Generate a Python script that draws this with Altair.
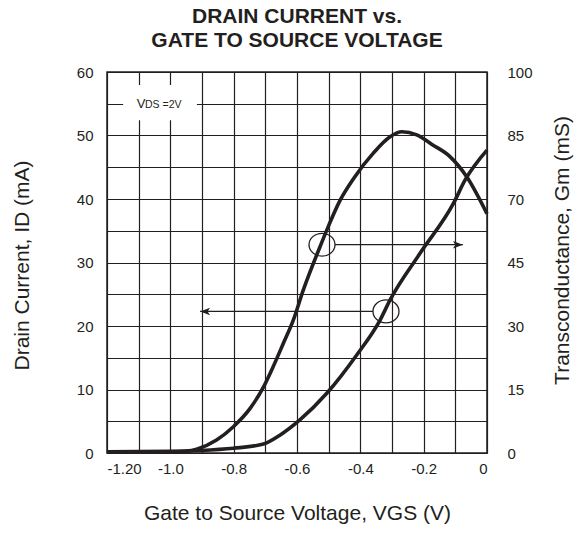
import altair as alt
import pandas as pd

# Drain current I_D (mA, left axis)
vgs_id = [-1.2, -1.0, -0.906, -0.801, -0.706, -0.654, -0.591, -0.506, -0.412,
          -0.338, -0.306, -0.212, -0.106, -0.069, 0.0]
id_ma = [0.2, 0.25, 0.4, 0.75, 1.4, 2.8, 5.2, 9.4, 15.4,
         20.9, 24.1, 31.4, 39.3, 43.0, 47.7]

# Transconductance Gm (mS, right axis)
vgs_gm = [-1.2, -1.1, -1.0, -0.95, -0.917, -0.854, -0.801, -0.748, -0.706,
          -0.675, -0.643, -0.612, -0.580, -0.527, -0.506, -0.464, -0.42,
          -0.359, -0.306, -0.269, -0.222, -0.170, -0.117, -0.064, 0.0]
gm_ms = [0.3, 0.3, 0.3, 0.5, 1.0, 3.4, 6.9, 11.7, 17.3,
         22.7, 28.8, 34.8, 42.8, 54.2, 58.5, 66.3, 72.2,
         78.7, 83.0, 84.3, 83.5, 80.8, 77.8, 72.5, 62.8]

# Axis ticks / labels
x_ticks = [-1.2, -1.1, -1.0, -0.9, -0.8, -0.7, -0.6, -0.5, -0.4, -0.3, -0.2, -0.1, 0.0]
x_labels = ["-1.20", "", "-1.0", "", "-0.8", "", "-0.6", "", "-0.4", "", "-0.2", "", "0"]
y_ticks = [0, 5, 10, 15, 20, 25, 30, 35, 40, 45, 50, 55, 60]
y_labels = ["0", "", "10", "", "20", "", "30", "", "40", "", "50", "", "60"]
gm_ticks = [0, 100 / 6, 200 / 6, 50, 400 / 6, 500 / 6, 100]
gm_labels = ["0", "15", "30", "45", "70", "85", "100"]

# Annotations (data units)
circle_x = [-0.521, -0.319]
circle_y = [32.8, 22.3]
arrow_x1 = [-0.48, -0.36]
arrow_x2 = [-0.076, -0.906]
arrow_y = [32.8, 22.3]
arrow_dir = ["right", "left"]
vds_box = {"x": -1.149, "x2": -0.916, "y": 52.4, "y2": 57.95}

INK = "#231f20"
FONT = "Liberation Sans"

xs = alt.Scale(domain=[-1.2, 0], nice=False, zero=False)
ys = alt.Scale(domain=[0, 60], nice=False, zero=False)
gs = alt.Scale(domain=[0, 100], nice=False, zero=False)

def js_list(lst):
    return "[" + ",".join("'" + s + "'" for s in lst) + "]"

x_axis = alt.Axis(values=x_ticks, labelExpr=js_list(x_labels) + "[round(datum.value*10)+12]",
                  title="Gate to Source Voltage, VGS (V)", grid=True, labelPadding=8,
                  titleX=190, titleY=60, titleBaseline="middle", titleAlign="center")
y_axis = alt.Axis(values=y_ticks, labelExpr=js_list(y_labels) + "[round(datum.value/5)]",
                  title="Drain Current, ID (mA)", grid=True, labelPadding=14,
                  titleX=-85, titleY=193, titleBaseline="middle", titleAlign="center",
                  titleAngle=270)
g_axis = alt.Axis(values=gm_ticks, labelExpr=js_list(gm_labels) + "[round(datum.value*6/100)]",
                  title="Transconductance, Gm (mS)", grid=False, orient="right",
                  labelPadding=20, titleX=75, titleY=178, titleBaseline="middle",
                  titleAlign="center", titleAngle=270)

X = lambda f: alt.X(f, scale=xs, axis=x_axis)
Y = lambda f: alt.Y(f, scale=ys, axis=y_axis)

id_df = pd.DataFrame({"vgs": vgs_id, "id": id_ma})
gm_df = pd.DataFrame({"vgs": vgs_gm, "gm": gm_ms})

id_line = alt.Chart(id_df).mark_line(color=INK, strokeWidth=3.6, interpolate="monotone").encode(
    x=X("vgs:Q"), y=Y("id:Q"),
)

box = alt.Chart(pd.DataFrame([vds_box])).mark_rect(color="white").encode(
    x=X("x:Q"), x2="x2:Q", y=Y("y:Q"), y2="y2:Q",
)

vds_v = alt.Chart(pd.DataFrame({"x": [-1.106], "y": [54.3], "t": ["V"]})).mark_text(
    align="left", baseline="alphabetic", font=FONT, fontSize=13, color=INK
).encode(x=X("x:Q"), y=Y("y:Q"), text="t:N")

vds_sub = alt.Chart(pd.DataFrame({"x": [-1.080], "y": [54.3], "t": ["DS =2V"]})).mark_text(
    align="left", baseline="alphabetic", font=FONT, fontSize=10.5, color=INK
).encode(x=X("x:Q"), y=Y("y:Q"), text="t:N")

ellipse_path = "M -1 0 A 1 0.88 0 1 1 1 0 A 1 0.88 0 1 1 -1 0 Z"
circles = alt.Chart(pd.DataFrame({"x": circle_x, "y": circle_y})).mark_point(
    shape=ellipse_path, size=676, filled=False, color=INK, strokeWidth=1.3, opacity=1
).encode(x=X("x:Q"), y=Y("y:Q"))

arr_df = pd.DataFrame({"x1": arrow_x1, "x2": arrow_x2, "y": arrow_y, "dir": arrow_dir})
rules = alt.Chart(arr_df).mark_rule(color=INK, strokeWidth=1.2).encode(
    x=X("x1:Q"), x2="x2:Q", y=Y("y:Q"),
)
head_r = alt.Chart(arr_df[arr_df["dir"] == "right"]).mark_point(
    shape="M -2 -0.75 L 0 0 L -2 0.75 L -1.5 0 Z", size=100, filled=True, color=INK, opacity=1
).encode(x=X("x2:Q"), y=Y("y:Q"))
head_l = alt.Chart(arr_df[arr_df["dir"] == "left"]).mark_point(
    shape="M 2 -0.75 L 0 0 L 2 0.75 L 1.5 0 Z", size=100, filled=True, color=INK, opacity=1
).encode(x=X("x2:Q"), y=Y("y:Q"))

left = alt.layer(id_line, box, vds_v, vds_sub, circles, rules, head_r, head_l)

gm_line = alt.Chart(gm_df).mark_line(color=INK, strokeWidth=3.6, interpolate="monotone").encode(
    x=X("vgs:Q"),
    y=alt.Y("gm:Q", scale=gs, axis=g_axis),
)

chart = alt.layer(left, gm_line).resolve_scale(y="independent").properties(
    width=380, height=381,
    autosize=alt.AutoSizeParams(type="none"),
    padding={"left": 99, "top": 64, "right": 87, "bottom": 72},
    title=alt.TitleParams(
        text=["DRAIN CURRENT vs.", "GATE TO SOURCE VOLTAGE"],
        font=FONT, fontSize=21, fontWeight="bold", color=INK,
        anchor="middle", offset=14, lineHeight=24,
    ),
).configure_view(stroke=INK, strokeWidth=1.5).configure_axis(
    domain=False, ticks=False, gridColor=INK, gridOpacity=1, gridWidth=1.2,
    labelFont=FONT, labelFontSize=15, labelColor=INK,
    titleFont=FONT, titleFontSize=21, titleFontWeight="normal", titleColor=INK,
)

chart.save("out.html", embed_options={"renderer": "svg", "actions": False})
